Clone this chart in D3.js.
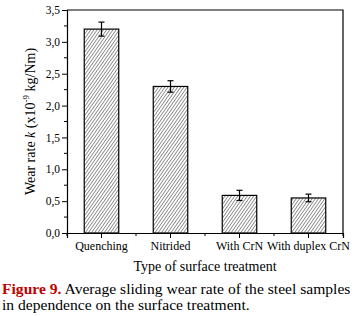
<!DOCTYPE html>
<html>
<head>
<meta charset="utf-8">
<script src="https://cdn.jsdelivr.net/npm/d3@7"></script>
<style>
  body { margin: 0; background: #fff; }
  svg { display: block; font-family: "Liberation Serif", "Times New Roman", serif; }
</style>
</head>
<body>
<svg id="chart" width="364" height="316"></svg>
<script>
// données
const categories = ["Quenching", "Nitrided", "With CrN", "With duplex CrN"];
const wearRate = [3.2, 2.3, 0.59, 0.55];
const wearErr = [0.11, 0.09, 0.08, 0.06];
const yTicks = [0, 0.5, 1, 1.5, 2, 2.5, 3, 3.5];

const svg = d3.select("#chart");
const plot = { left: 67, right: 343, top: 10, bottom: 233 };

// échelles
const x = d3.scaleBand()
  .domain(categories)
  .range([plot.left, plot.right])
  .paddingInner(0.5)
  .paddingOuter(0.25);

const y = d3.scaleLinear()
  .domain([0, 3.5])
  .range([plot.bottom, plot.top]);

const fmt = d => d3.format(".1f")(d).replace(".", ",");

// motif hachuré
const defs = svg.append("defs");
const pat = defs.append("pattern")
  .attr("id", "hatch")
  .attr("patternUnits", "userSpaceOnUse")
  .attr("width", 2.6)
  .attr("height", 2.6)
  .attr("patternTransform", "rotate(35)");
pat.append("rect").attr("width", 2.6).attr("height", 2.6).attr("fill", "#fff");
pat.append("line")
  .attr("x1", 0).attr("y1", 0).attr("x2", 0).attr("y2", 2.6)
  .attr("stroke", "#6a6a6a").attr("stroke-width", 1.4);

// barres
svg.append("g")
  .selectAll("rect")
  .data(categories)
  .join("rect")
  .attr("x", d => x(d))
  .attr("y", (d, i) => y(wearRate[i]))
  .attr("width", x.bandwidth())
  .attr("height", (d, i) => y(0) - y(wearRate[i]))
  .attr("fill", "url(#hatch)")
  .attr("stroke", "#000")
  .attr("stroke-width", 1.2);

// barres d'erreur
const err = svg.append("g").attr("stroke", "#000").attr("stroke-width", 1.2);
categories.forEach((c, i) => {
  const cx = x(c) + x.bandwidth() / 2;
  const top = y(wearRate[i] + wearErr[i]);
  const bot = y(wearRate[i] - wearErr[i]);
  err.append("line").attr("x1", cx).attr("x2", cx).attr("y1", top).attr("y2", bot);
  err.append("line").attr("x1", cx - 3).attr("x2", cx + 3).attr("y1", top).attr("y2", top);
  err.append("line").attr("x1", cx - 3).attr("x2", cx + 3).attr("y1", bot).attr("y2", bot);
});

// cadre (haut et droite)
svg.append("path")
  .attr("d", `M${plot.left},${plot.top}H${plot.right}V${plot.bottom}`)
  .attr("fill", "none")
  .attr("stroke", "#000")
  .attr("stroke-width", 1.2);

// axe Y
const yAxis = svg.append("g")
  .attr("transform", `translate(${plot.left},0)`)
  .call(d3.axisLeft(y).tickValues(yTicks).tickFormat(fmt).tickSize(5).tickPadding(2));
yAxis.append("g")
  .selectAll("line")
  .data(yTicks.slice(0, -1).map(d => d + 0.25))
  .join("line")
  .attr("x1", -3).attr("x2", 0)
  .attr("y1", d => y(d)).attr("y2", d => y(d))
  .attr("stroke", "#000");

// axe X
const xAxis = svg.append("g")
  .attr("transform", `translate(0,${plot.bottom})`)
  .call(d3.axisBottom(x).tickSize(5).tickPadding(3));
const step = x.step();
xAxis.append("g")
  .selectAll("line")
  .data(d3.range(categories.length + 1))
  .join("line")
  .attr("x1", i => plot.left + i * step).attr("x2", i => plot.left + i * step)
  .attr("y1", 0).attr("y2", 3)
  .attr("stroke", "#000");

svg.selectAll(".domain").attr("stroke-width", 1.2);
svg.selectAll(".tick text")
  .attr("fill", "#000")
  .style("font-family", "'Liberation Serif', 'Times New Roman', serif");
yAxis.selectAll(".tick text").style("font-size", "11.5px");
xAxis.selectAll(".tick text").style("font-size", "12px");
svg.selectAll(".tick line").attr("stroke", "#000");

// titres d'axes
svg.append("text")
  .attr("transform", `translate(35,${(plot.top + plot.bottom) / 2}) rotate(-90)`)
  .attr("text-anchor", "middle")
  .style("font-size", "14px")
  .html(`Wear rate <tspan font-style="italic">k</tspan> (x10<tspan dy="-6" font-size="9px">-9</tspan><tspan dy="6"> kg/Nm)</tspan>`);

svg.append("text")
  .attr("x", (plot.left + plot.right) / 2)
  .attr("y", 271)
  .attr("text-anchor", "middle")
  .style("font-size", "14px")
  .text("Type of surface treatment");

// légende de figure
const cap = svg.append("text").attr("x", 2).attr("y", 294).style("font-size", "15.6px");
cap.append("tspan").attr("fill", "#c00000").attr("font-weight", "bold").text("Figure 9.");
cap.append("tspan").text(" Average sliding wear rate of the steel samples");
svg.append("text").attr("x", 2).attr("y", 310).style("font-size", "15.6px")
  .text("in dependence on the surface treatment.");
</script>
</body>
</html>
